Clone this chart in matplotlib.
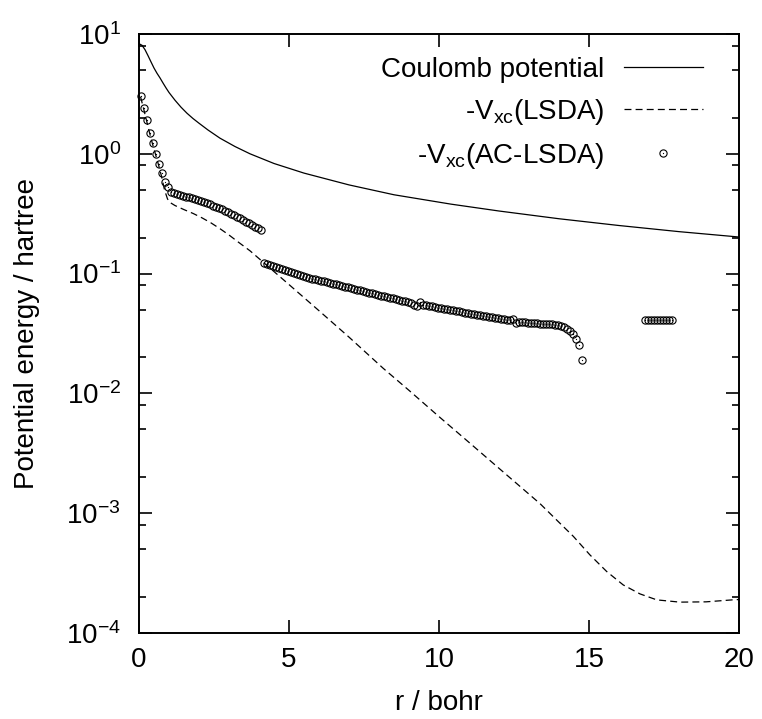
import numpy as np
import matplotlib
matplotlib.use('Agg')
import matplotlib.pyplot as plt
from matplotlib.ticker import LogLocator, NullFormatter, FixedLocator
from matplotlib.legend_handler import HandlerTuple

# ---------------- data ----------------
coulomb_r = [0.0, 0.1, 0.2, 0.3, 0.4, 0.5, 0.6, 0.7, 0.8, 0.9, 1.0, 1.2, 1.4,
             1.6, 1.8, 2.0, 2.3, 2.7, 3.2, 3.7, 4.5, 5.5, 7.0, 8.5, 10.4, 12.0,
             14.0, 16.0, 18.0, 20.0]
coulomb_v = [8.3, 8.05, 7.4, 6.6, 5.85, 5.2, 4.7, 4.3, 3.9, 3.55, 3.25, 2.8, 2.45,
             2.18, 1.97, 1.80, 1.58, 1.35, 1.15, 1.0, 0.83, 0.69, 0.55, 0.455, 0.38,
             0.333, 0.287, 0.252, 0.224, 0.202]

lsda_r = [0.05, 0.15, 0.25, 0.35, 0.45, 0.55, 0.65, 0.75, 0.85, 0.95, 1.05, 1.2,
          1.5, 1.8, 2.1, 2.4, 2.7, 3.0, 3.3, 3.7, 4.1, 5.0, 6.0, 7.0, 8.14, 9.0,
          10.0, 11.0, 12.0, 13.37, 14.03, 14.48, 15.03, 15.59, 16.14, 16.7, 17.26,
          18.03, 18.9, 19.9, 20.0]
lsda_v = [3.0, 2.4, 1.9, 1.5, 1.21, 0.99, 0.81, 0.65, 0.50, 0.42, 0.39, 0.37,
          0.342, 0.318, 0.292, 0.265, 0.237, 0.210, 0.184, 0.155, 0.127, 0.081,
          0.049, 0.0295, 0.0162, 0.0106, 0.0064, 0.0039, 0.00237, 0.0012, 0.000825,
          0.00064, 0.000449, 0.000326, 0.000252, 0.000212, 0.000189, 0.000181,
          0.000182, 0.00019, 0.00019]

ac_r = [0.05, 0.15, 0.25, 0.35, 0.45, 0.55, 0.65, 0.75, 0.85, 0.95,
        1.05, 1.15, 1.25, 1.35, 1.45, 1.55, 1.65, 1.75, 1.85, 1.95,
        2.05, 2.15, 2.25, 2.35, 2.45, 2.55, 2.65, 2.75, 2.85, 2.95,
        3.05, 3.15, 3.25, 3.35, 3.45, 3.55, 3.65, 3.75, 3.85, 3.95, 4.05,
        4.15, 4.25, 4.35, 4.45, 4.55, 4.65, 4.75, 4.85, 4.95,
        5.05, 5.15, 5.25, 5.35, 5.45, 5.55, 5.65, 5.75, 5.85, 5.95,
        6.05, 6.15, 6.25, 6.35, 6.45, 6.55, 6.65, 6.75, 6.85, 6.95,
        7.05, 7.15, 7.25, 7.35, 7.45, 7.55, 7.65, 7.75, 7.85, 7.95,
        8.05, 8.15, 8.25, 8.35, 8.45, 8.55, 8.65, 8.75, 8.85, 8.95,
        9.05, 9.15, 9.25, 9.35, 9.45, 9.55, 9.65, 9.75, 9.85, 9.95,
        10.05, 10.15, 10.25, 10.35, 10.45, 10.55, 10.65, 10.75, 10.85, 10.95,
        11.05, 11.15, 11.25, 11.35, 11.45, 11.55, 11.65, 11.75, 11.85, 11.95,
        12.05, 12.15, 12.25, 12.35, 12.45, 12.55, 12.65, 12.75, 12.85, 12.95,
        13.05, 13.15, 13.25, 13.35, 13.45, 13.55, 13.65, 13.75, 13.85, 13.95,
        14.05, 14.15, 14.25, 14.35, 14.45, 14.55, 14.65, 14.75,
        16.85, 16.95, 17.05, 17.15, 17.25, 17.35, 17.45, 17.55, 17.65, 17.75]
ac_v = [3.03, 2.40, 1.91, 1.50, 1.22, 1.00, 0.82, 0.69, 0.585, 0.53,
        0.478, 0.470, 0.462, 0.455, 0.447, 0.440, 0.432, 0.425, 0.417, 0.410,
        0.402, 0.394, 0.386, 0.378, 0.370, 0.362, 0.353, 0.344, 0.335, 0.326,
        0.317, 0.308, 0.299, 0.290, 0.281, 0.272, 0.263, 0.255, 0.247, 0.240, 0.233,
        0.1219, 0.1197, 0.1175, 0.1153, 0.1132, 0.1111, 0.1091, 0.1071, 0.1051,
        0.1032, 0.1013, 0.0994, 0.0976, 0.0958, 0.0940, 0.0923, 0.0910, 0.0897, 0.0884,
        0.0872, 0.0860, 0.0847, 0.0835, 0.0824, 0.0812, 0.0801, 0.0789, 0.0778, 0.0767,
        0.0757, 0.0746, 0.0735, 0.0725, 0.0715, 0.0705, 0.0695, 0.0685, 0.0675, 0.0666,
        0.0656, 0.0647, 0.0638, 0.0629, 0.0620, 0.0611, 0.0603, 0.0594, 0.0586, 0.0578,
        0.0570, 0.0545, 0.0540, 0.0575, 0.0550, 0.0544, 0.0538, 0.0532, 0.0526, 0.0520,
        0.0514, 0.0508, 0.0503, 0.0498, 0.0493, 0.0488, 0.0483, 0.0478, 0.0473, 0.0468,
        0.0463, 0.0458, 0.0453, 0.0449, 0.0445, 0.0440, 0.0436, 0.0432, 0.0428, 0.0424,
        0.0420, 0.0416, 0.0412, 0.0408, 0.0418, 0.0390, 0.0394, 0.0393, 0.0391, 0.0389,
        0.0388, 0.0386, 0.0385, 0.0383, 0.0382, 0.0380, 0.0378, 0.0376, 0.0373, 0.0370,
        0.0365, 0.0358, 0.0348, 0.0334, 0.0313, 0.0286, 0.0252, 0.0189,
        0.0408, 0.0409, 0.0410, 0.0410, 0.0410, 0.0411, 0.0411, 0.0411, 0.0412, 0.0412]

x_ticks = [0, 5, 10, 15, 20]
labels = ['Coulomb potential', '-V$_{xc}$(LSDA)', '-V$_{xc}$(AC-LSDA)']
x_label = 'r / bohr'
y_label = 'Potential energy / hartree'

# ---------------- style ----------------
plt.rcParams['font.family'] = ['Liberation Sans', 'DejaVu Sans']
plt.rcParams['mathtext.fontset'] = 'custom'
plt.rcParams['mathtext.rm'] = 'Liberation Sans'
plt.rcParams['mathtext.it'] = 'Liberation Sans:italic'
plt.rcParams['mathtext.bf'] = 'Liberation Sans:bold'
plt.rcParams['mathtext.default'] = 'regular'
plt.rcParams['lines.scale_dashes'] = False
plt.rcParams['axes.unicode_minus'] = False

fig = plt.figure(figsize=(7.62, 7.19), dpi=100)
ax = fig.add_axes([139 / 762, 1 - 633 / 719, 600 / 762, 599 / 719])
ax.set_yscale('log')
ax.set_xlim(0, 20)
ax.set_ylim(1e-4, 10)

l1, = ax.plot(coulomb_r, coulomb_v, color='black', lw=0.9)
l2, = ax.plot(lsda_r, lsda_v, color='black', lw=0.9, ls=(0, (5, 3)))
m1, = ax.plot(ac_r, ac_v, ls='none', marker='o', ms=5.2, mfc='none', mec='black',
              mew=0.8, clip_on=False)
m2, = ax.plot(ac_r, ac_v, ls='none', marker='o', ms=0.9, mfc='black', mec='black',
              mew=0, clip_on=False)

ax.legend([l1, l2, (m1, m2)], labels,
          handler_map={tuple: HandlerTuple(ndivide=1, pad=0)},
          markerfirst=False, frameon=False, loc='upper right',
          bbox_to_anchor=(0.94, 0.962), borderaxespad=0, borderpad=0,
          handlelength=2.85, handletextpad=0.7, labelspacing=0.5,
          fontsize=20, numpoints=1)

ax.xaxis.set_major_locator(FixedLocator(x_ticks))
ax.yaxis.set_major_locator(LogLocator(base=10, numticks=10))
ax.yaxis.set_minor_locator(LogLocator(base=10, subs=[2, 5, 8], numticks=20))
ax.yaxis.set_minor_formatter(NullFormatter())

ax.tick_params(which='both', direction='in', top=True, right=True, width=1.2,
               labelsize=20)
ax.tick_params(which='major', length=9.4)
ax.tick_params(which='minor', length=5)
ax.tick_params(axis='x', which='major', pad=10)
ax.tick_params(axis='y', which='major', pad=13)
for s in ax.spines.values():
    s.set_linewidth(1.4)

ax.set_xlabel(x_label, fontsize=20, labelpad=12)
ax.set_ylabel(y_label, fontsize=20, labelpad=19)

fig.savefig('out.png', dpi=100)
